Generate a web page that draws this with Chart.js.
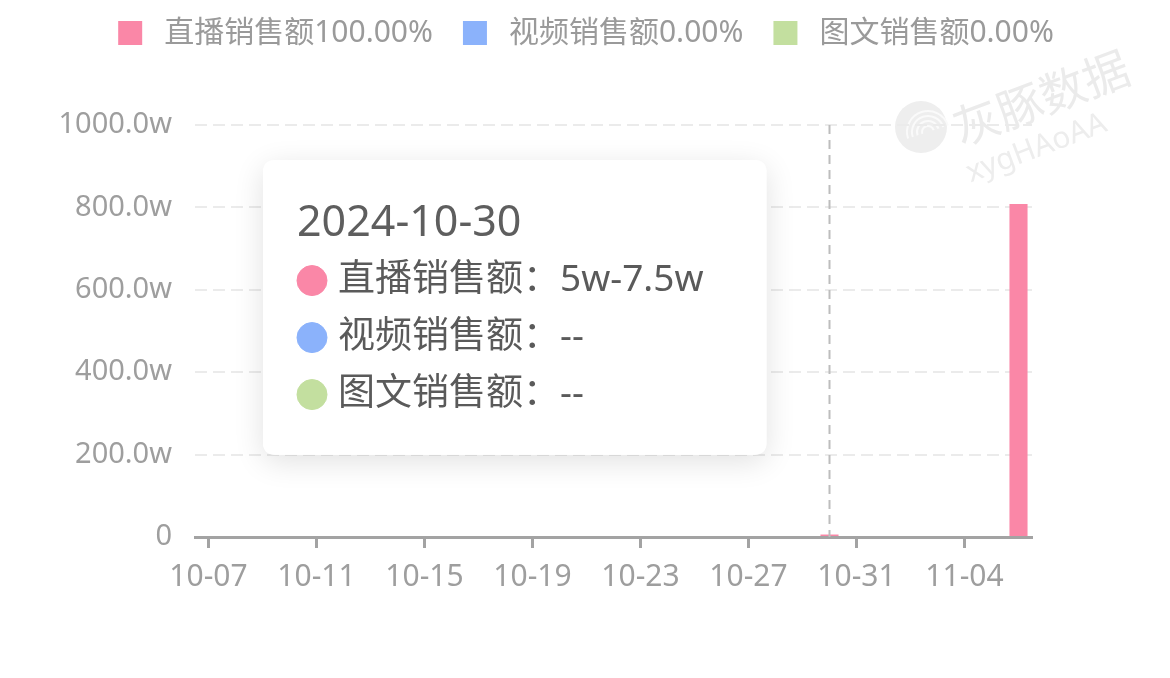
<!DOCTYPE html>
<html>
<head>
<meta charset="utf-8">
<script src="https://cdn.jsdelivr.net/npm/chart.js@4.4.1/dist/chart.umd.min.js"></script>
<style>
  html, body { margin: 0; padding: 0; background: #fff; }
  #wrap { width: 1170px; height: 678px; }
</style>
</head>
<body>
<div id="wrap"><canvas id="myChart"></canvas></div>
<script>
  const labels = ['10-07', '10-08', '10-09', '10-10', '10-11', '10-12', '10-13', '10-14',
    '10-15', '10-16', '10-17', '10-18', '10-19', '10-20', '10-21', '10-22', '10-23',
    '10-24', '10-25', '10-26', '10-27', '10-28', '10-29', '10-30', '10-31',
    '11-01', '11-02', '11-03', '11-04', '11-05', '11-06'];
  const seriesNames = ['直播销售额', '视频销售额', '图文销售额'];
  const shareText = ['100.00%', '0.00%', '0.00%'];
  // sales in w (万)
  const liveSales = [null, null, null, null, null, null, null, null, null, null, null, null,
    null, null, null, null, null, null, null, null, null, null, null, 6, null,
    null, null, null, null, null, 808];
  const videoSales = labels.map(() => null);
  const textSales = labels.map(() => null);
  const yTicks = [0, 200, 1000];

  const hoverDay = '10-30';
  const hoverLiveRange = '5w-7.5w';

  const colors = ['#fa87a7', '#8bb2fb', '#c3df9f'];
  const FONT = '"Noto Sans", "Noto Sans CJK SC", sans-serif';

  // legend swatch: transparent gap on the left so items sit like the original
  function swatch(color) {
    const c = document.createElement('canvas');
    c.width = 43; c.height = 24;
    const g = c.getContext('2d');
    g.fillStyle = color;
    g.fillRect(12, 0, 24, 24);
    return c;
  }

  Chart.Tooltip.positioners.pinned = function () {
    return { x: 263 + 12, y: 160 };
  };

  const legendSpace = {
    id: 'legendSpace',
    afterInit(chart) {
      const fit = chart.legend.fit;
      chart.legend.fit = function () {
        fit.call(this);
        this.height = 125;
      };
    }
  };

  const hoverLine = {
    id: 'hoverLine',
    afterDatasetsDraw(chart) {
      const ctx = chart.ctx;
      const x = chart.scales.x.getPixelForValue(labels.indexOf(hoverDay));
      const { top, bottom } = chart.chartArea;
      ctx.save();
      ctx.strokeStyle = '#bdbdbd';
      ctx.lineWidth = 2;
      ctx.setLineDash([9, 6]);
      ctx.beginPath();
      ctx.moveTo(x, top);
      ctx.lineTo(x, bottom);
      ctx.stroke();
      ctx.restore();
    }
  };

  const tooltipShadow = {
    id: 'tooltipShadow',
    beforeTooltipDraw(chart, args) {
      const t = args.tooltip;
      const ctx = chart.ctx;
      ctx.save();
      ctx.shadowColor = 'rgba(0,0,0,0.12)';
      ctx.shadowBlur = 30;
      ctx.shadowOffsetY = 7;
      ctx.fillStyle = '#fff';
      ctx.beginPath();
      ctx.roundRect(t.x, t.y, t.width, t.height, 12);
      ctx.fill();
      ctx.restore();
    }
  };

  const watermark = {
    id: 'watermark',
    beforeDraw(chart) {
      const ctx = chart.ctx;
      ctx.save();
      ctx.fillStyle = '#eeeeee';
      ctx.beginPath();
      ctx.arc(921, 127, 26, 0, Math.PI * 2);
      ctx.fill();
      ctx.strokeStyle = '#fafafa';
      ctx.lineWidth = 2;
      for (let r = 6; r < 22; r += 5) {
        ctx.beginPath();
        ctx.arc(928, 132, r, Math.PI * 0.9, Math.PI * 1.9);
        ctx.stroke();
      }
      ctx.translate(955, 130);
      ctx.rotate(-0.36);
      ctx.fillStyle = '#ebebeb';
      ctx.font = '46px "Noto Sans CJK SC"';
      ctx.fillText('灰豚数据', 0, 0);
      ctx.font = '30px "Noto Sans"';
      ctx.fillStyle = '#ededed';
      ctx.fillText('xygHAoAA', -4, 46);
      ctx.restore();
    }
  };

  const chart = new Chart(document.getElementById('myChart'), {
    type: 'bar',
    data: {
      labels: labels,
      datasets: [
        { label: seriesNames[0], data: liveSales, backgroundColor: colors[0] },
        { label: seriesNames[1], data: videoSales, backgroundColor: colors[1] },
        { label: seriesNames[2], data: textSales, backgroundColor: colors[2] }
      ]
    },
    options: {
      responsive: true,
      maintainAspectRatio: false,
      animation: false,
      events: [],
      layout: { padding: { left: 0, right: 10, top: 0, bottom: 0 } },
      datasets: { bar: { categoryPercentage: 1, barPercentage: 0.67 } },
      scales: {
        x: {
          stacked: true,
          grid: {
            display: true,
            drawOnChartArea: false,
            drawTicks: true,
            offset: false,
            tickLength: 11,
            tickWidth: 3,
            tickColor: c => (c.index % 4 === 0 ? '#a3a3a3' : 'rgba(0,0,0,0)')
          },
          border: { display: true, color: '#a3a3a3', width: 3 },
          ticks: {
            autoSkip: false,
            maxRotation: 0,
            padding: 11,
            color: '#9e9e9e',
            font: { family: FONT, size: 30 },
            callback: (v, i) => (i % 4 === 0 ? labels[i] : '')
          },
          afterFit(s) { s.height = 141; }
        },
        y: {
          stacked: true,
          min: yTicks[0],
          max: yTicks[2],
          grid: { color: '#ebebeb', lineWidth: 2, drawTicks: false },
          border: { display: false, dash: [12, 6] },
          ticks: {
            stepSize: yTicks[1],
            padding: 23,
            color: '#9e9e9e',
            font: { family: FONT, size: 29 },
            callback: v => (v === 0 ? '0' : v.toFixed(1) + 'w')
          },
          afterFit(s) { s.width = 195; }
        },
        right: {
          position: 'right',
          display: true,
          grid: { display: false },
          border: { display: false },
          ticks: { display: false },
          afterFit(s) { s.width = 128; }
        }
      },
      plugins: {
        legend: {
          position: 'top',
          labels: {
            usePointStyle: true,
            pointStyleWidth: 43,
            boxHeight: 24,
            padding: 18,
            color: '#9a9a9a',
            font: { family: FONT, size: 30 },
            generateLabels: ch => ch.data.datasets.map((ds, i) => ({
              text: ds.label + shareText[i],
              fillStyle: ds.backgroundColor,
              strokeStyle: ds.backgroundColor,
              lineWidth: 0,
              pointStyle: swatch(ds.backgroundColor),
              hidden: false,
              datasetIndex: i,
              fontColor: '#9a9a9a'
            }))
          }
        },
        tooltip: {
          enabled: true,
          position: 'pinned',
          xAlign: 'left',
          yAlign: 'top',
          caretSize: 0,
          caretPadding: 0,
          cornerRadius: 12,
          backgroundColor: '#ffffff',
          titleColor: '#5e5e5e',
          bodyColor: '#5a5a5a',
          titleFont: { family: FONT, size: 43, weight: 'normal', lineHeight: 1.125 },
          bodyFont: { family: FONT, size: 37, lineHeight: 1.2 },
          titleMarginBottom: 10,
          bodySpacing: 12.6,
          padding: { top: 40, bottom: 38, left: 34, right: 63 },
          usePointStyle: true,
          boxWidth: 30,
          boxHeight: 30,
          boxPadding: 9,
          callbacks: {
            title: items => '2024-' + items[0].label,
            label: c => c.dataset.label + '：' + (c.raw == null ? '--' : hoverLiveRange),
            labelColor: c => ({ backgroundColor: colors[c.datasetIndex], borderColor: colors[c.datasetIndex], borderWidth: 0 }),
            labelPointStyle: () => ({ pointStyle: 'circle', rotation: 0 })
          }
        }
      }
    },
    plugins: [legendSpace, watermark, hoverLine, tooltipShadow]
  });

  const hi = labels.indexOf(hoverDay);
  chart.tooltip.setActiveElements(
    [0, 1, 2].map(d => ({ datasetIndex: d, index: hi })),
    { x: chart.scales.x.getPixelForValue(hi), y: 300 }
  );
  chart.update();
</script>
</body>
</html>
